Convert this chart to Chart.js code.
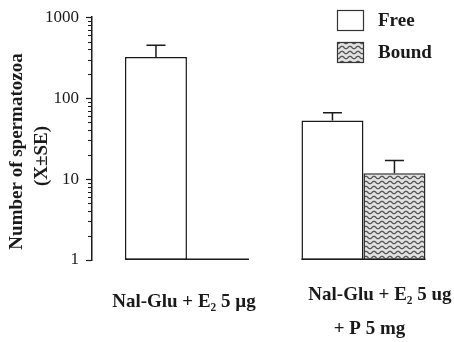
<!DOCTYPE html>
<html>
<head>
<meta charset="utf-8">
<script src="https://cdn.jsdelivr.net/npm/chart.js@4.4.0/dist/chart.umd.min.js"></script>
<style>
  html, body { margin: 0; padding: 0; background: #ffffff; }
  canvas { display: block; }
</style>
</head>
<body>
<canvas id="c" width="454" height="342"></canvas>
<script>
// ---------------- data ----------------
const categories = [["Nal-Glu + E\u2082 5 \u00b5g"], ["Nal-Glu + E\u2082 5 ug", "+ P 5 mg"]];
const seriesNames = ["Free", "Bound"];
const freeValues = [323, 53];
const freeSE = [127, 13];
const boundValues = [null, 11.8];
const boundSE = [null, 5.1];
const yTickValues = [1, 10, 100, 1000];
const yAxisTitle = ["Number of spermatozoa", "(X\u00b1SE)"];

// ---------------- style ----------------
const SERIF = "'Liberation Serif', 'Times New Roman', serif";
const INK = "#1a1a1a";
const labelStyle = [
  [{ dx: -3, y: 307 }],
  [{ dx: 16.5, y: 300 }, { dx: 6, y: 334 }]
];
const titleStyle = [{ x: 17.5, y: 151.5 }, { x: 42, y: 156 }];
const legendStyle = { x: 337.5, y0: 10.5, dy: 32, w: 26, h: 20, textX: 378 };

function makeWavePattern() {
  const c = document.createElement('canvas');
  c.width = 8; c.height = 5;
  const g = c.getContext('2d');
  g.fillStyle = '#e2e2e2';
  g.fillRect(0, 0, 8, 5);
  g.strokeStyle = '#555555';
  g.lineWidth = 1.3;
  g.beginPath();
  for (let x = -1; x <= 9; x += 0.5) {
    const y = 2.5 + 1.2 * Math.sin((x / 8) * Math.PI * 2);
    if (x === -1) g.moveTo(x, y); else g.lineTo(x, y);
  }
  g.stroke();
  return g.createPattern(c, 'repeat');
}
const wave = makeWavePattern();

// minor tick values (2..9 within each decade)
const minorTicks = [];
yTickValues.slice(0, -1).forEach(d => {
  for (let k = 2; k <= 9; k++) minorTicks.push(d * k);
});

const overlay = {
  id: 'overlay',
  afterDatasetsDraw(chart) {
    const ctx = chart.ctx;
    const ys = chart.scales.y;
    const area = chart.chartArea;
    ctx.save();
    ctx.strokeStyle = INK;
    ctx.lineWidth = 1.5;
    // baseline under each group
    categories.forEach((_, i) => {
      let l = Infinity, r = -Infinity;
      chart.data.datasets.forEach((ds, di) => {
        const el = chart.getDatasetMeta(di).data[i];
        if (!el || !isFinite(el.x)) return;
        l = Math.min(l, el.x - el.width / 2);
        r = Math.max(r, el.x + el.width / 2);
      });
      if (isFinite(l)) {
        ctx.beginPath();
        ctx.moveTo(l, area.bottom - 0.75);
        ctx.lineTo(r, area.bottom - 0.75);
        ctx.stroke();
      }
    });
    // error bars (upper only)
    chart.data.datasets.forEach((ds, di) => {
      const meta = chart.getDatasetMeta(di);
      meta.data.forEach((el, i) => {
        const v = ds.data[i], se = ds.se[i];
        if (v == null || se == null) return;
        const yErr = ys.getPixelForValue(v + se);
        ctx.beginPath();
        ctx.moveTo(el.x, el.y);
        ctx.lineTo(el.x, yErr);
        ctx.moveTo(el.x - 9.5, yErr);
        ctx.lineTo(el.x + 9.5, yErr);
        ctx.stroke();
      });
    });
    ctx.restore();
  },
  afterDraw(chart) {
    const ctx = chart.ctx;
    const xs = chart.scales.x;
    const ys = chart.scales.y;
    const axisX = chart.chartArea.left;
    ctx.save();
    // minor ticks on the y axis
    ctx.strokeStyle = INK;
    ctx.lineWidth = 1.2;
    ctx.beginPath();
    minorTicks.forEach(v => {
      const py = Math.round(ys.getPixelForValue(v)) + 0.5;
      ctx.moveTo(axisX - 4, py);
      ctx.lineTo(axisX, py);
    });
    ctx.stroke();

    ctx.fillStyle = INK;
    // category labels
    ctx.font = "bold 19px " + SERIF;
    ctx.textAlign = 'center';
    ctx.textBaseline = 'alphabetic';
    categories.forEach((lines, i) => {
      const cx = xs.getPixelForValue(i);
      lines.forEach((t, j) => {
        const st = labelStyle[i][j];
        ctx.fillText(t, cx + st.dx, st.y);
      });
    });
    // y axis title
    ctx.textBaseline = 'middle';
    yAxisTitle.forEach((t, j) => {
      ctx.save();
      ctx.translate(titleStyle[j].x, titleStyle[j].y);
      ctx.rotate(-Math.PI / 2);
      ctx.fillText(t, 0, 0);
      ctx.restore();
    });
    // legend
    ctx.textAlign = 'left';
    chart.data.datasets.forEach((ds, di) => {
      const by = legendStyle.y0 + di * legendStyle.dy;
      ctx.fillStyle = ds.backgroundColor;
      ctx.fillRect(legendStyle.x, by, legendStyle.w, legendStyle.h);
      ctx.strokeStyle = '#333';
      ctx.lineWidth = 1.2;
      ctx.strokeRect(legendStyle.x, by, legendStyle.w, legendStyle.h);
      ctx.fillStyle = INK;
      ctx.fillText(ds.label, legendStyle.textX, by + legendStyle.h / 2 + 0.5);
    });
    ctx.restore();
  }
};

Chart.defaults.font.family = SERIF;
Chart.defaults.color = INK;

new Chart(document.getElementById('c'), {
  type: 'bar',
  data: {
    labels: categories.map(c => c.join(' ')),
    datasets: [
      { label: seriesNames[0], data: freeValues, se: freeSE, backgroundColor: '#ffffff', borderColor: INK, borderWidth: 1.5, borderSkipped: false },
      { label: seriesNames[1], data: boundValues, se: boundSE, backgroundColor: wave, borderColor: '#2a2a2a', borderWidth: 1.5, borderSkipped: false }
    ]
  },
  options: {
    responsive: false,
    devicePixelRatio: 1,
    animation: false,
    layout: { padding: { top: 12, right: 9, bottom: 74, left: 0 } },
    datasets: { bar: { categoryPercentage: 0.7025, barPercentage: 1.0 } },
    plugins: { legend: { display: false }, tooltip: { enabled: false } },
    scales: {
      x: {
        type: 'category', offset: true,
        grid: { display: false }, border: { display: false }, ticks: { display: false },
        afterBuildTicks(s) {
          // shift category centres slightly away from the y axis
          s._startValue = -0.538; s._valueRange = 2;
        }
      },
      y: {
        type: 'logarithmic', min: 1, max: 1000,
        afterBuildTicks(s) { s.ticks = yTickValues.map(v => ({ value: v, major: true })); },
        afterFit(s) { s.width = 92; },
        ticks: { autoSkip: false, padding: 7, color: INK, font: { size: 17, family: SERIF }, callback(v) { return String(v); } },
        grid: { drawOnChartArea: false, drawTicks: true, tickLength: 6, tickWidth: 1.2, tickColor: INK },
        border: { display: true, color: INK, width: 1.5 }
      }
    }
  },
  plugins: [overlay]
});
</script>
</body>
</html>
